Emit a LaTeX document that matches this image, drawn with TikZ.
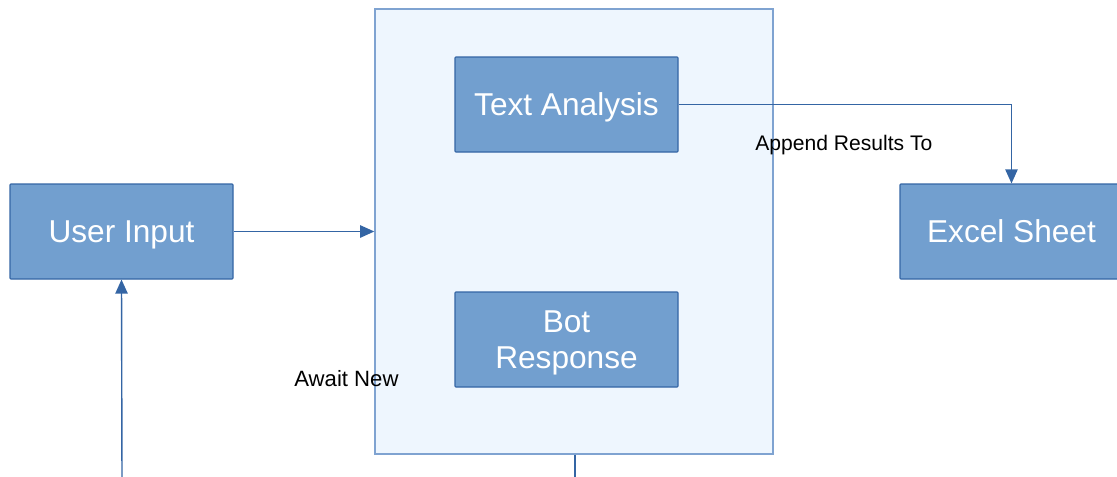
\documentclass[tikz,border=0pt]{standalone}
\usepackage{fontspec}
\setmainfont{Liberation Sans}
\usetikzlibrary{arrows.meta}
\definecolor{boxfill}{HTML}{729FCF}
\definecolor{boxline}{HTML}{3465A4}
\definecolor{panelfill}{HTML}{EEF6FE}
\definecolor{panelline}{HTML}{7FA3D1}
\definecolor{wire}{HTML}{3465A4}
\tikzset{
  block/.style={draw=boxline, line width=0.6pt, fill=boxfill, text=white,
    minimum width=223*0.02cm, minimum height=95*0.02cm, inner sep=0pt,
    align=center, font=\fontsize{18}{20.5}\selectfont, rounded corners=0.5pt,
    text depth=0pt},
  panel/.style={draw=panelline, line width=0.8pt, fill=panelfill},
  wire/.style={draw=wire, line width=0.8pt, -{Triangle[length=8pt,width=7pt]}},
  plain/.style={draw=wire, line width=0.8pt},
  tag/.style={font=\fontsize{12}{14}\selectfont, text=black, inner sep=0pt}
}
\begin{document}
\begin{tikzpicture}[x=0.02cm,y=-0.02cm]
  \useasboundingbox (0,0) rectangle (1117,477);
  % processing panel
  \node[panel, minimum width=398*0.02cm, minimum height=445*0.02cm, inner sep=0pt] (core) at (574,231.5) {};
  % blocks
  \node[block] (analysis) at (566.5,104.5) {Text Analysis};
  \node[block] (reply) at (566.5,339.5) {Bot\\Response};
  \node[block] (user) at (121.5,231.5) {User Input};
  \node[block] (excel) at (1011.5,231.5) {Excel Sheet};
  % free ends at the lower edge
  \coordinate (loopstart) at (122,480);
  \coordinate (loopend) at (575,480);
  % connectors
  \draw[wire] (user.east) -- (core.west);
  \draw[wire] (analysis.east) -| (excel.north);
  \draw[wire] (loopstart) -- (user.south);
  \draw[plain] (core.south -| loopend) -- (loopend);
  % labels
  \node[tag, anchor=west] (append) at (755,145) {Append Results To};
  \node[tag, anchor=west, font=\fontsize{12.6}{14}\selectfont] (await) at (294,379) {Await New};
\end{tikzpicture}
\end{document}
